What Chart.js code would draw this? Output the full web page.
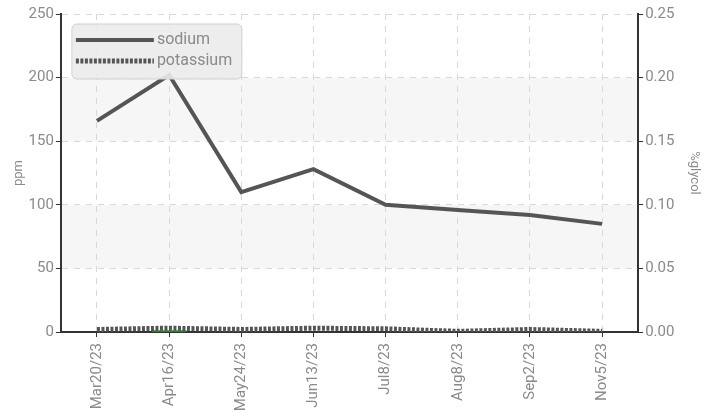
<!DOCTYPE html>
<html>
<head>
<meta charset="utf-8">
<script src="https://cdn.jsdelivr.net/npm/chart.js@4/dist/chart.umd.min.js"></script>
<style>
  body { margin: 0; background: #fff; }
</style>
</head>
<body>
<canvas id="chart" width="718" height="413"></canvas>
<script>
const dates = ["Mar20/23", "Apr16/23", "May24/23", "Jun13/23", "Jul8/23", "Aug8/23", "Sep2/23", "Nov5/23"]
const sodium = [166, 202, 110, 128, 100, 96, 92, 85]
const potassium = [2, 3, 2, 3, 2.5, 0.5, 2, 0.5]
const glycol = [null, 0.001, null, null, null, null, null, null]
const ppmTicks = [0, 50, 100, 150, 200, 250]

const labelFont = { family: "Roboto, sans-serif", size: 15 }
const textColor = "#8a8a8a"

//shaded bands behind the grid
const bands = {
    id: "bands",
    beforeDraw(chart) {
        const { ctx, chartArea } = chart
        const y = chart.scales.y
        ctx.save()
        ctx.fillStyle = "#f6f6f6"
        for (const [hi, lo] of [[200, 150], [100, 50]]) {
            ctx.fillRect(chartArea.left, y.getPixelForValue(hi), chartArea.right - chartArea.left, y.getPixelForValue(lo) - y.getPixelForValue(hi))
        }
        ctx.restore()
    }
}

//legend box inside the plot
const boxLegend = {
    id: "boxLegend",
    afterDraw(chart) {
        const ctx = chart.ctx
        const x = chart.chartArea.left + 11, y = chart.chartArea.top + 10, w = 170, h = 55
        ctx.save()
        ctx.fillStyle = "rgba(235,235,235,0.9)"
        ctx.strokeStyle = "#d0d0d0"
        ctx.lineWidth = 1
        ctx.beginPath()
        ctx.roundRect(x, y, w, h, 5)
        ctx.fill()
        ctx.stroke()
        const items = chart.data.datasets.filter(d => !d.hideLegend)
        items.forEach((d, i) => {
            const ly = y + 16 + i * 21
            ctx.strokeStyle = d.borderColor
            ctx.lineWidth = d.borderWidth
            ctx.setLineDash(d.borderDash || [])
            ctx.beginPath()
            ctx.moveTo(x + 4, ly)
            ctx.lineTo(x + 82, ly)
            ctx.stroke()
            ctx.setLineDash([])
            ctx.fillStyle = textColor
            ctx.font = "16px " + labelFont.family
            ctx.textBaseline = "middle"
            ctx.fillText(d.label, x + 85, ly)
        })
        ctx.restore()
    }
}

const trimPadding = axis => { axis.paddingTop = 0; axis.paddingBottom = 0 }

new Chart(document.getElementById("chart"), {
    type: "line",
    data: {
        labels: dates,
        datasets: [
            { label: "sodium", data: sodium, yAxisID: "y", borderColor: "#555", borderWidth: 4, pointRadius: 0, tension: 0 },
            { label: "potassium", data: potassium, yAxisID: "y", borderColor: "#555", borderWidth: 5, borderDash: [3, 1.5], pointRadius: 0 },
            { label: "glycol", data: glycol, yAxisID: "y2", borderColor: "#3c3", hideLegend: true, pointStyle: "line", pointRadius: 17, pointBorderWidth: 1.5 }
        ]
    },
    options: {
        responsive: false,
        animation: false,
        layout: { autoPadding: false, padding: { left: 0, right: 0, top: 14, bottom: 0 } },
        plugins: { legend: { display: false }, tooltip: { enabled: false } },
        scales: {
            x: {
                offset: true,
                afterFit: axis => { axis.height = 81 },
                grid: { offset: false, color: "#d8d8d8", tickColor: "#333", tickLength: 5, drawOnChartArea: true },
                border: { color: "#333", width: 2, dash: [6, 6] },
                ticks: { color: textColor, font: labelFont, minRotation: 90, maxRotation: 90, padding: 6 }
            },
            y: {
                position: "left",
                min: 0, max: 250,
                afterBuildTicks: axis => { axis.ticks = ppmTicks.map(v => ({ value: v })) },
                afterFit: trimPadding,
                grid: { color: "#d8d8d8", tickColor: "#333", tickLength: 5 },
                border: { color: "#333", width: 2, dash: [6, 6] },
                ticks: { color: textColor, font: labelFont, padding: 2 },
                title: { display: true, text: "ppm", color: textColor, font: { family: labelFont.family, size: 13 }, padding: { top: 11, bottom: 0 } }
            },
            y2: {
                position: "right",
                min: 0, max: 0.25,
                afterFit: trimPadding,
                ticks: { stepSize: 0.05, color: textColor, font: labelFont, padding: 2, callback: v => v.toFixed(2) },
                grid: { drawOnChartArea: false, tickColor: "#333", tickLength: 5 },
                border: { color: "#333", width: 2 },
                title: { display: true, text: "%glycol", color: textColor, font: { family: labelFont.family, size: 13 }, padding: { top: 16, bottom: 10 } }
            }
        }
    },
    plugins: [bands, boxLegend]
})
</script>
</body>
</html>
